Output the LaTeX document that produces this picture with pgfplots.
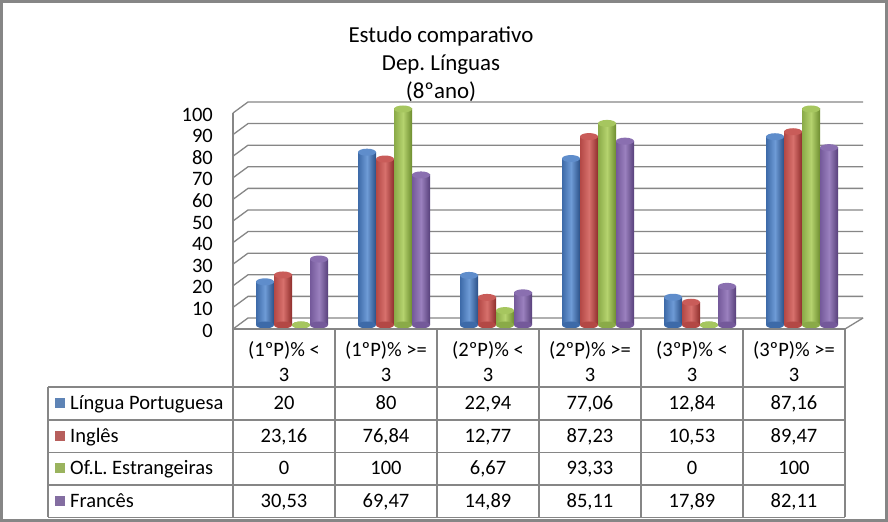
\documentclass[border=0pt]{standalone}
\usepackage{pgfplots}
\pgfplotsset{compat=1.18}
\usepackage{pgfplotstable}
\usepackage{fontspec}
\setmainfont{Carlito}

\definecolor{gridc}{HTML}{868686}
\definecolor{bL}{HTML}{3D6AA8}\definecolor{bM}{HTML}{6E9BD6}\definecolor{bR}{HTML}{2B5086}\definecolor{bT}{HTML}{5F8DCB}
\definecolor{rL}{HTML}{B34845}\definecolor{rM}{HTML}{D7706C}\definecolor{rR}{HTML}{8E2E2C}\definecolor{rT}{HTML}{C95C59}
\definecolor{gL}{HTML}{8AAA48}\definecolor{gM}{HTML}{B5D36E}\definecolor{gR}{HTML}{6D8C2F}\definecolor{gT}{HTML}{A6C65F}
\definecolor{pL}{HTML}{74599A}\definecolor{pM}{HTML}{9A80BE}\definecolor{pR}{HTML}{57407A}\definecolor{pT}{HTML}{8A6FB0}

% values of the chart
\pgfplotstableread{
cat lp    ing   ofl   fra
0   20    23.16 0     30.53
1   80    76.84 100   69.47
2   22.94 12.77 6.67  14.89
3   77.06 87.23 93.33 85.11
4   12.84 10.53 0     17.89
5   87.16 89.47 100   82.11
}\datatable

\pgfdeclareplotmark{cyl}{%
  \pgfpathellipse{\pgfpointorigin}{\pgfqpoint{9bp}{0pt}}{\pgfqpoint{0pt}{3.5bp}}%
  \pgfusepathqfill}

\newcommand\txt{\fontsize{20.5bp}{25bp}\selectfont}

% one cylinder series: column, shift in bp, shift in x units, colour prefix
\newcommand\cylseries[4]{%
  \addplot[only marks, mark=cyl, mark options={fill=#4L}] table[x expr=\thisrow{cat}+#3, y expr=0]{\datatable};
  \pgfplotsinvokeforeach{0,...,5}{%
    \addplot[ybar, bar width=18bp, bar shift=#2, draw=none,
      left color=#4L, right color=#4R, middle color=#4M,
      restrict x to domain=##1:##1] table[x=cat, y=#1]{\datatable};
  }
  \addplot[only marks, mark=cyl, mark options={fill=#4T}] table[x expr=\thisrow{cat}+#3, y=#1]{\datatable};
}

\begin{document}
\frenchspacing
\begin{tikzpicture}[x=1bp,y=1bp]
\useasboundingbox (0,0) rectangle (888,522);
\fill[white] (0,0) rectangle (888,522);

% walls and floor, pixel coordinates from the top
\begin{scope}[shift={(0,522)}, y=-1bp]
  \foreach \v in {0,10,...,100}{
    \pgfmathsetmacro\yf{329-2.16*\v}
    \draw[gridc, line width=1.3bp] (233,\yf) -- (248,\yf-11) -- (863,\yf-11);
  }
  \draw[gridc, line width=1.3bp] (233,329) -- (233,113);
  \draw[gridc, line width=1.3bp] (845,329) -- (863,318);
\end{scope}

\begin{axis}[
  at={(233bp,193bp)}, anchor=south west,
  scale only axis, width=612bp, height=220bp,
  xmin=-0.5784, xmax=5.4216, ymin=-1.852, ymax=100,
  clip=false,
  axis line style={draw=none},
  xtick=\empty, ytick={0,10,...,100},
  major tick length=0pt,
  /pgf/number format/assume math mode=true,
  yticklabel style={anchor=east, inner sep=0pt, xshift=-20bp, yshift=-5.5bp, font=\txt},
]
\cylseries{lp}{-27bp}{-0.2647}{b}
\cylseries{ing}{-9bp}{-0.0882}{r}
\cylseries{ofl}{9bp}{0.0882}{g}
\cylseries{fra}{27bp}{0.2647}{p}
\end{axis}

\begin{scope}[shift={(0,522)}, y=-1bp]
  % title
  \foreach \yy/\t in {43/Estudo comparativo, 71/Dep. Línguas, 99/(8ºano)}
    \node[anchor=base, inner sep=0, font=\fontsize{22.9bp}{28bp}\selectfont] at (441,\yy) {\t};
  % data table
  \draw[gridc, line width=1.3bp] (233,329) -- (845,329);
  \foreach \yy in {387,420,452.5,485,517.5}
    \draw[gridc, line width=1.3bp] (48,\yy) -- (845,\yy);
  \foreach \c in {0,...,6}
    \draw[gridc, line width=1.3bp] (233+102*\c,329) -- (233+102*\c,517.5);
  \draw[gridc, line width=1.3bp] (48,387) -- (48,517.5);
  \foreach \c/\a/\b in {0/{(1ºP)\% <}/3, 1/{(1ºP)\% >=}/3, 2/{(2ºP)\% <}/3, 3/{(2ºP)\% >=}/3, 4/{(3ºP)\% <}/3, 5/{(3ºP)\% >=}/3}{
    \node[anchor=base, inner sep=0, font=\txt] at (284+102*\c,357) {\a};
    \node[anchor=base, inner sep=0, font=\txt] at (284+102*\c,382) {\b};
  }
  \foreach \s/\r/\col/\name in {lp/0/bM/Língua Portuguesa, ing/1/rM/Inglês, ofl/2/gM/Of.L. Estrangeiras, fra/3/pM/Francês}{
    \pgfmathsetmacro\yc{403.5+32.5*\r}
    \fill[\col!85!black] (55,\yc-5) rectangle (65,\yc+5);
    \node[anchor=base west, inner sep=0, font=\txt] at (70,\yc+6.5) {\name};
    \foreach \c in {0,...,5}{
      \pgfplotstablegetelem{\c}{\s}\of\datatable
      \node[anchor=base, inner sep=0, font=\txt] at (284+102*\c,\yc+6.5)
        {\pgfmathprintnumber[use comma, fixed, precision=2, assume math mode=true]{\pgfplotsretval}};
    }
  }
\end{scope}

\draw[gridc, line width=3bp] (1.5,1.5) rectangle (886.5,520.5);
\end{tikzpicture}
\end{document}
